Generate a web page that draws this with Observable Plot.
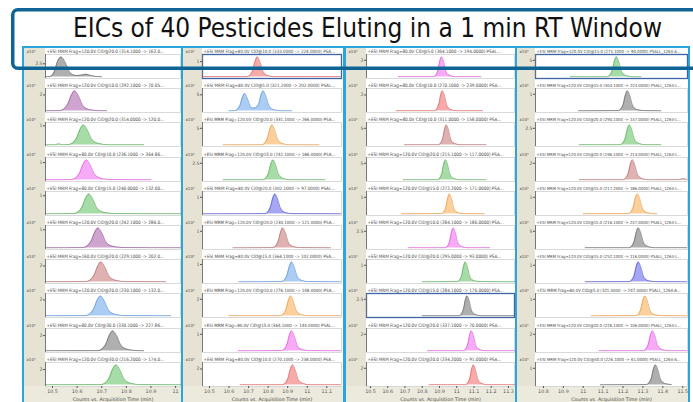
<!DOCTYPE html>
<html><head><meta charset="utf-8">
<script src="https://cdn.jsdelivr.net/npm/d3@7"></script>
<script src="https://cdn.jsdelivr.net/npm/@observablehq/plot@0.6"></script>
<style>
html,body{margin:0;padding:0;background:#fff;}
#root{position:relative;width:693px;height:402px;overflow:hidden;background:#fff;}
.col{position:absolute;top:46px;height:380px;box-sizing:border-box;border:2px solid #2ba6dd;background:#fff;overflow:hidden;}
.strip{position:absolute;left:0;top:0;bottom:0;background:#e7e3d4;}
.bottom{position:absolute;left:0;right:0;bottom:0;background:#ece9dd;}
.cell{position:absolute;left:0;}
#over{position:absolute;left:0;top:0;pointer-events:none;}
</style></head>
<body><div id="root"></div>
<script>
// ---------------- DATA ----------------
const titleText = "EICs of 40 Pesticides Eluting in a 1 min RT Window";
const axisTitle = "Counts vs. Acquisition Time (min)";

const xDomains = [[10.4715, 11.02], [10.4645, 11.175], [10.4768, 11.335], [10.76, 11.524]];
const xTicks = [
  [10.5, 10.6, 10.7, 10.8, 10.9, 11],
  [10.5, 10.6, 10.7, 10.8, 10.9, 11, 11.1],
  [10.5, 10.6, 10.7, 10.8, 10.9, 11, 11.1, 11.2, 11.3],
  [10.8, 10.9, 11, 11.1, 11.2, 11.3, 11.4, 11.5]
];

const col1Headers = [
  "+ESI MRM Frag=120.0V CID@20.0 (314.1000 -> 162.0...",
  "+ESI MRM Frag=120.0V CID@10.0 (292.1000 -> 70.05...",
  "+ESI MRM Frag=120.0V CID@20.0 (314.0000 -> 120.0...",
  "+ESI MRM Frag=80.0V CID@10.0 (236.1000 -> 364.86...",
  "+ESI MRM Frag=80.0V CID@15.0 (240.0000 -> 132.00...",
  "+ESI MRM Frag=120.0V CID@20.0 (242.1000 -> 286.0...",
  "+ESI MRM Frag=160.0V CID@20.0 (229.1000 -> 202.0...",
  "+ESI MRM Frag=120.0V CID@20.0 (230.1000 -> 132.0...",
  "+ESI MRM Frag=80.0V CID@30.0 (330.1000 -> 227.86...",
  "+ESI MRM Frag=120.0V CID@30.0 (216.2000 -> 174.0..."
];
const col2Headers = [
  "+ESI MRM Frag=80.0V CID@10.0 (333.0000 -> 224.0000) PSA...",
  "+ESI MRM Frag=80.0V CID@5.0 (321.2000 -> 202.0000) PSAL...",
  "+ESI MRM Frag=120.0V CID@20.0 (331.1000 -> 266.0000) PSA...",
  "+ESI MRM Frag=120.0V CID@15.0 (242.1000 -> 186.0000) PSA...",
  "+ESI MRM Frag=80.0V CID@20.0 (302.1000 -> 97.0000) PSAL...",
  "+ESI MRM Frag=120.0V CID@20.0 (230.1000 -> 121.0000) PSA...",
  "+ESI MRM Frag=80.0V CID@15.0 (364.1000 -> 102.0000) PSA...",
  "+ESI MRM Frag=120.0V CID@10.0 (276.1000 -> 148.0000) PSA...",
  "+ESI MRM Frag=80.0V CID@15.0 (364.1000 -> 144.0000) PSAL...",
  "+ESI MRM Frag=80.0V CID@10.0 (270.1000 -> 238.0000) PSA..."
];
const col3Headers = [
  "+ESI MRM Frag=80.0V CID@5.0 (364.1000 -> 194.0000) PSAL...",
  "+ESI MRM Frag=80.0V CID@10.0 (270.1000 -> 239.0000) PSA...",
  "+ESI MRM Frag=80.0V CID@10.0 (311.0000 -> 158.0000) PSA...",
  "+ESI MRM Frag=120.0V CID@20.0 (215.1000 -> 117.0000) PSA...",
  "+ESI MRM Frag=120.0V CID@15.0 (272.2000 -> 171.0000) PSA...",
  "+ESI MRM Frag=120.0V CID@10.0 (284.1000 -> 186.0000) PSA...",
  "+ESI MRM Frag=120.0V CID@20.0 (295.0000 -> 93.0000) PSA...",
  "+ESI MRM Frag=120.0V CID@15.0 (284.1000 -> 176.0000) PSA...",
  "+ESI MRM Frag=120.0V CID@20.0 (337.1000 -> 70.0000) PSA...",
  "+ESI MRM Frag=120.0V CID@20.0 (234.2000 -> 91.0000) PSA..."
];
const col4Headers = [
  "+ESI MRM Frag=120.0V CID@15.0 (275.1000 -> 90.0000) PSALL_1264-A...",
  "+ESI MRM Frag=120.0V CID@15.0 (304.1000 -> 224.0000) PSALL_1264-L...",
  "+ESI MRM Frag=120.0V CID@20.0 (290.1000 -> 147.0000) PSALL_1264-L...",
  "+ESI MRM Frag=120.0V CID@20.0 (196.1000 -> 213.0000) PSALL_1264-L...",
  "+ESI MRM Frag=120.0V CID@15.0 (217.2000 -> 186.0000) PSALL_1264-L...",
  "+ESI MRM Frag=120.0V CID@15.0 (216.1000 -> 247.0000) PSALL_1264-L...",
  "+ESI MRM Frag=120.0V CID@15.0 (252.1000 -> 116.0000) PSALL_1264-L...",
  "+ESI MRM Frag=80.0V CID@5.0 (321.0000 -> 247.0000) PSALL_1264-A...",
  "+ESI MRM Frag=120.0V CID@20.0 (226.1000 -> 106.0000) PSALL_1264-L...",
  "+ESI MRM Frag=120.0V CID@40.0 (226.1000 -> 61.0000) PSALL_1264-A..."
];

const col1Exponents = [5, 4, 5, 4, 4, 5, 4, 4, 5, 4];
const col2Exponents = [3, 3, 3, 3, 4, 4, 5, 3, 5, 4];
const col3Exponents = [3, 4, 3, 3, 4, 3, 3, 3, 3, 3];
const col4Exponents = [3, 5, 3, 4, 3, 3, 4, 3, 4, 4];

const col1YTicks = [2.5, 2, 1, 1, 1, 1, 2, 2, 2, 2];
const col2YTicks = [1, 5, 5, 2.5, 1, 1, 1, 2, 1, 2];
const col3YTicks = [2, 2, 5, 5, 1, 2.5, 1, 2.5, 2, 2];
const col4YTicks = [5, 1, 2.5, 2, 1, 5, 1, 1, 2, 1];

const col1Colors = ["gray", "purple", "green", "magenta", "green", "purple", "rosy", "blue", "gray", "green"];
const col2Colors = ["salmon", "blue", "orange", "green", "violet", "rosy", "blue", "orange", "magenta", "salmon"];
const col3Colors = ["magenta", "salmon", "rosy", "green", "orange", "magenta", "green", "gray", "magenta", "salmon"];
const col4Colors = ["green", "gray", "green", "rosy", "orange", "gray", "violet", "orange", "magenta", "gray"];

// traces: flat [time, intensity, time, intensity, ...] in axis units
const col1Traces = [
  [10.472,0.08, 10.49,0.1, 10.507,1.0, 10.521,3.0, 10.535,3.8, 10.55,2.9, 10.57,0.9, 10.595,0.3, 10.615,0.35, 10.635,0.55, 10.655,0.3, 10.68,0.1, 10.70,0.08],
  [10.472,0.05, 10.53,0.06, 10.56,0.75, 10.577,2.0, 10.59,2.5, 10.605,1.9, 10.625,0.6, 10.655,0.15, 10.69,0.05, 10.72,0.05],
  [10.472,0.02, 10.51,0.02, 10.525,0.06, 10.54,0.02, 10.566,0.03, 10.596,0.32, 10.613,0.85, 10.626,1.05, 10.641,0.8, 10.661,0.27, 10.691,0.07, 10.726,0.02, 10.87,0.02],
  [10.472,0.02, 10.578,0.03, 10.608,0.35, 10.625,0.92, 10.638,1.15, 10.653,0.86, 10.673,0.29, 10.703,0.08, 10.738,0.03, 10.9,0.02],
  [10.472,0.02, 10.588,0.03, 10.618,0.33, 10.635,0.88, 10.648,1.1, 10.663,0.83, 10.683,0.28, 10.713,0.08, 10.748,0.03, 11.02,0.02],
  [10.472,0.02, 10.625,0.03, 10.655,0.33, 10.672,0.88, 10.685,1.1, 10.7,0.83, 10.72,0.28, 10.75,0.08, 10.785,0.03, 11.02,0.02],
  [10.472,0.05, 10.637,0.06, 10.667,0.75, 10.684,2.0, 10.697,2.5, 10.712,1.9, 10.732,0.63, 10.762,0.18, 10.797,0.06, 10.96,0.05],
  [10.472,0.05, 10.635,0.06, 10.665,0.75, 10.682,2.0, 10.695,2.5, 10.71,1.9, 10.73,0.63, 10.76,0.18, 10.795,0.06, 10.98,0.05],
  [10.472,0.05, 10.685,0.06, 10.715,0.78, 10.732,2.1, 10.745,2.6, 10.76,2.0, 10.78,0.65, 10.81,0.18, 10.845,0.06, 10.87,0.05],
  [10.472,0.05, 10.698,0.06, 10.728,0.78, 10.745,2.1, 10.758,2.6, 10.773,2.0, 10.793,0.65, 10.823,0.18, 10.858,0.06, 11.02,0.05]
];
const col2Traces = [
  [10.466,0.03, 10.695,0.03, 10.72,0.39, 10.734,1.04, 10.745,1.3, 10.758,0.98, 10.775,0.33, 10.8,0.09, 10.83,0.03, 11.17,0.03],
  [10.6,0.1, 10.63,0.12, 10.655,1.6, 10.669,4.3, 10.68,5.4, 10.693,4.0, 10.71,1.4, 10.727,0.9, 10.75,1.9, 10.764,5.0, 10.775,6.2, 10.788,4.6, 10.805,1.6, 10.83,0.4, 10.86,0.12, 10.92,0.1],
  [10.57,0.1, 10.77,0.12, 10.795,1.8, 10.809,4.8, 10.82,6, 10.833,4.5, 10.85,1.5, 10.875,0.4, 10.905,0.12, 11.06,0.1],
  [10.57,0.06, 10.775,0.06, 10.8,0.9, 10.814,2.4, 10.825,3, 10.838,2.25, 10.855,0.75, 10.88,0.2, 10.91,0.06, 11.09,0.06],
  [10.466,0.02, 10.785,0.03, 10.81,0.36, 10.824,0.96, 10.835,1.2, 10.848,0.9, 10.865,0.3, 10.89,0.08, 10.92,0.03, 11.17,0.02],
  [10.62,0.02, 10.825,0.03, 10.85,0.36, 10.864,0.96, 10.875,1.2, 10.888,0.9, 10.905,0.3, 10.93,0.08, 10.96,0.03, 11.12,0.02],
  [10.65,0.02, 10.87,0.03, 10.895,0.35, 10.909,0.92, 10.92,1.15, 10.933,0.86, 10.95,0.29, 10.975,0.08, 11.005,0.03, 11.17,0.02],
  [10.6,0.05, 10.865,0.05, 10.89,0.72, 10.904,1.92, 10.915,2.4, 10.928,1.8, 10.945,0.6, 10.97,0.17, 11.0,0.05, 11.17,0.05],
  [10.647,0.02, 10.87,0.03, 10.895,0.36, 10.909,0.96, 10.92,1.2, 10.933,0.9, 10.95,0.3, 10.975,0.08, 11.005,0.03, 11.17,0.02],
  [10.657,0.05, 10.875,0.05, 10.9,0.75, 10.914,2.0, 10.925,2.5, 10.938,1.88, 10.955,0.63, 10.98,0.18, 11.01,0.05, 11.17,0.05]
];
const col3Traces = [
  [10.662,0.05, 10.867,0.05, 10.89,0.72, 10.902,1.92, 10.912,2.4, 10.924,1.8, 10.939,0.6, 10.962,0.17, 10.992,0.05, 11.14,0.05],
  [10.65,0.05, 10.872,0.05, 10.895,0.75, 10.907,2.0, 10.917,2.5, 10.929,1.88, 10.944,0.63, 10.967,0.18, 10.997,0.05, 11.15,0.05],
  [10.697,0.12, 10.895,0.12, 10.918,1.8, 10.93,4.8, 10.94,6, 10.952,4.5, 10.967,1.5, 10.99,0.42, 11.02,0.12, 11.17,0.12],
  [10.69,0.12, 10.89,0.12, 10.913,1.8, 10.925,4.8, 10.935,6, 10.947,4.5, 10.962,1.5, 10.985,0.42, 11.015,0.12, 11.17,0.12],
  [10.68,0.02, 10.913,0.03, 10.936,0.36, 10.948,0.96, 10.958,1.2, 10.97,0.9, 10.985,0.3, 11.008,0.08, 11.038,0.03, 11.16,0.02],
  [10.72,0.06, 10.935,0.06, 10.958,0.9, 10.97,2.4, 10.98,3, 10.992,2.25, 11.007,0.75, 11.03,0.21, 11.06,0.06, 11.19,0.06],
  [10.8,0.02, 11.005,0.03, 11.028,0.36, 11.04,0.96, 11.05,1.2, 11.062,0.9, 11.077,0.3, 11.1,0.08, 11.13,0.03, 11.335,0.02],
  [10.8,0.06, 11.015,0.06, 11.038,0.9, 11.05,2.4, 11.06,3, 11.072,2.25, 11.087,0.75, 11.11,0.21, 11.14,0.06, 11.335,0.06],
  [10.83,0.05, 11.04,0.05, 11.063,0.72, 11.075,1.92, 11.085,2.4, 11.097,1.8, 11.112,0.6, 11.135,0.17, 11.165,0.05, 11.335,0.05],
  [10.84,0.05, 11.052,0.05, 11.075,0.72, 11.087,1.92, 11.097,2.4, 11.109,1.8, 11.124,0.6, 11.147,0.17, 11.177,0.05, 11.335,0.05]
];
const col4Traces = [
  [10.935,0.12, 11.122,0.12, 11.145,1.8, 11.157,4.8, 11.167,6, 11.179,4.5, 11.194,1.5, 11.217,0.42, 11.247,0.12, 11.29,0.12],
  [10.976,0.02, 11.177,0.03, 11.2,0.36, 11.212,0.96, 11.222,1.2, 11.234,0.9, 11.249,0.3, 11.272,0.08, 11.302,0.03, 11.39,0.02],
  [10.98,0.06, 11.187,0.06, 11.21,0.9, 11.222,2.4, 11.232,3, 11.244,2.25, 11.259,0.75, 11.282,0.21, 11.312,0.06, 11.39,0.06],
  [10.98,0.05, 11.202,0.05, 11.225,0.72, 11.237,1.92, 11.247,2.4, 11.259,1.8, 11.274,0.6, 11.297,0.17, 11.327,0.05, 11.48,0.05, 11.5,0.15, 11.52,0.08],
  [11.0,0.02, 11.227,0.03, 11.25,0.36, 11.262,0.96, 11.272,1.2, 11.284,0.9, 11.299,0.3, 11.322,0.08, 11.352,0.03, 11.37,0.02],
  [11.01,0.12, 11.232,0.12, 11.255,1.8, 11.267,4.8, 11.277,6, 11.289,4.5, 11.304,1.5, 11.327,0.42, 11.357,0.12, 11.52,0.12],
  [11.01,0.02, 11.232,0.03, 11.255,0.36, 11.267,0.96, 11.277,1.2, 11.289,0.9, 11.304,0.3, 11.327,0.08, 11.357,0.03, 11.52,0.02],
  [11.04,0.02, 11.265,0.03, 11.288,0.36, 11.3,0.96, 11.31,1.2, 11.322,0.9, 11.337,0.3, 11.36,0.08, 11.39,0.03, 11.52,0.02],
  [11.08,0.05, 11.303,0.05, 11.326,0.72, 11.338,1.92, 11.348,2.4, 11.36,1.8, 11.375,0.6, 11.398,0.17, 11.428,0.05, 11.52,0.05],
  [11.086,0.02, 11.318,0.03, 11.341,0.36, 11.353,0.96, 11.363,1.2, 11.375,0.9, 11.39,0.3, 11.413,0.08, 11.443,0.03]
];

// selected (outlined) panels: [column, row]
const highlighted = [[1, 0], [2, 7], [3, 0]];

// ---------------- STYLE / LAYOUT ----------------
const palette = {
  gray: ["#ababab", "#6a6a6a"], purple: ["#cc9fcc", "#94609a"], green: ["#a2d9a2", "#5eae5e"],
  magenta: ["#f7a6f5", "#d95cd6"], salmon: ["#f6a5a5", "#dc6868"], blue: ["#a6caf3", "#5e93d6"],
  orange: ["#fccd98", "#e59c4c"], violet: ["#a0a2f2", "#5457cc"], rosy: ["#ddadad", "#b47272"]
};
const sup = {3: "\u00b3", 4: "\u2074", 5: "\u2075"};
const geom = [
  {left: 22, width: 161, strip: 21, mr: 1},
  {left: 181, width: 164, strip: 19, mr: 2},
  {left: 344, width: 173, strip: 20, mr: 1},
  {left: 515, width: 175, strip: 18, mr: 1}
];
const ROW = 34.2, CELL_H = 34, MT = 6, MB = 4, AXIS_EXTRA = 18;
const FONT = "'DejaVu Sans', 'Liberation Sans', sans-serif";
const HEADER_FONT = "'DejaVu Sans Condensed', 'Liberation Sans Narrow', 'DejaVu Sans', sans-serif";

// size header text so its natural width fits the panel
const measureCtx = document.createElement("canvas").getContext("2d");
function fitSize(text, maxWidth, base) {
  measureCtx.font = `${base * 10}px ${HEADER_FONT}`;
  const w = measureCtx.measureText(text).width / 10;
  return Math.min(base, base * maxWidth / w * 0.97);
}

const columns = [
  {headers: col1Headers, exps: col1Exponents, ticks: col1YTicks, colors: col1Colors, traces: col1Traces},
  {headers: col2Headers, exps: col2Exponents, ticks: col2YTicks, colors: col2Colors, traces: col2Traces},
  {headers: col3Headers, exps: col3Exponents, ticks: col3YTicks, colors: col3Colors, traces: col3Traces},
  {headers: col4Headers, exps: col4Exponents, ticks: col4YTicks, colors: col4Colors, traces: col4Traces}
];

const root = document.getElementById("root");
columns.forEach((col, c) => {
  const g = geom[c];
  const div = document.createElement("div");
  div.className = "col";
  div.style.left = g.left + "px";
  div.style.width = g.width + "px";
  const strip = document.createElement("div");
  strip.className = "strip";
  strip.style.width = g.strip + "px";
  div.appendChild(strip);
  const bottom = document.createElement("div");
  bottom.className = "bottom";
  bottom.style.top = (9 * ROW + CELL_H - MB + 0.5) + "px";
  div.appendChild(bottom);
  const innerW = g.width - 4;
  const plotW = innerW - g.strip - g.mr;
  for (let r = 0; r < 10; r++) {
    const last = r === 9;
    const flat = col.traces[r];
    const data = [];
    for (let i = 0; i < flat.length; i += 2) data.push({t: flat[i], v: flat[i + 1]});
    const top = d3.max(data, d => d.v);
    const [fillC, strokeC] = palette[col.colors[r]];
    const hl = highlighted.some(([hc, hr]) => hc === c && hr === r);
    const hSize = fitSize(col.headers[r], plotW - 3, 4.6);
    const marks = [
      Plot.frame({fill: "white", stroke: hl ? "#3f64a8" : "#d0d0d0", strokeWidth: hl ? 1.3 : 0.8}),
      Plot.areaY(data, {x: "t", y: "v", curve: "monotone-x", fill: fillC, fillOpacity: 0.95}),
      Plot.lineY(data, {x: "t", y: "v", curve: "monotone-x", stroke: strokeC, strokeWidth: 0.7}),
      Plot.ruleX([xDomains[c][0]], {stroke: "#6d6d6d", strokeWidth: 0.9}),
      Plot.axisY({ticks: [col.ticks[r]], tickSize: 2, tickPadding: 1, fontSize: 4.6, label: null, tickFormat: d => String(d)}),
      Plot.text([col.headers[r]], {frameAnchor: "top-left", dx: 1, dy: -2.6, lineAnchor: "middle", textAnchor: "start", fontSize: hSize, fontFamily: HEADER_FONT, fill: "#454545"}),
      Plot.text(["x10" + sup[col.exps[r]]], {frameAnchor: "top-left", dx: -(g.strip - 2), dy: -2.6, lineAnchor: "middle", textAnchor: "start", fontSize: 4, fill: "#4a4a4a"})
    ];
    if (last) {
      marks.push(
        Plot.axisX({ticks: xTicks[c], tickSize: 2, tickPadding: 1.5, fontSize: 4.8, label: null, tickFormat: d => String(d)}),
        Plot.text([axisTitle], {frameAnchor: "bottom", dy: 13, lineAnchor: "middle", fontSize: 4.8, fill: "#4a4a4a"})
      );
    }
    const svg = Plot.plot({
      width: innerW,
      height: last ? CELL_H + AXIS_EXTRA : CELL_H,
      marginTop: MT,
      marginBottom: last ? MB + AXIS_EXTRA : MB,
      marginLeft: g.strip,
      marginRight: g.mr,
      x: last ? {domain: xDomains[c]} : {domain: xDomains[c], axis: null},
      y: {domain: [-0.07 * top, 1.12 * top]},
      style: {background: "transparent", overflow: "visible", fontFamily: FONT, color: "#555"},
      marks
    });
    svg.classList.add("cell");
    svg.style.position = "absolute";
    svg.style.top = Math.round(r * ROW) + "px";
    svg.style.left = "0px";
    div.appendChild(svg);
  }
  root.appendChild(div);
});

// title box overlay
const ns = "http://www.w3.org/2000/svg";
const over = document.createElementNS(ns, "svg");
over.setAttribute("id", "over");
over.setAttribute("width", 693);
over.setAttribute("height", 80);
const rect = document.createElementNS(ns, "rect");
rect.setAttribute("x", 12.75); rect.setAttribute("y", 9.75);
rect.setAttribute("width", 700); rect.setAttribute("height", 58.5);
rect.setAttribute("rx", 5); rect.setAttribute("fill", "none");
rect.setAttribute("stroke", "#0e6494"); rect.setAttribute("stroke-width", 3.5);
over.appendChild(rect);
const tt = document.createElementNS(ns, "text");
tt.setAttribute("x", 73); tt.setAttribute("y", 37);
tt.setAttribute("font-size", 27);
tt.setAttribute("font-family", "'Liberation Sans Narrow', 'DejaVu Sans Condensed', 'Roboto Condensed', sans-serif");
tt.setAttribute("fill", "#111");
tt.setAttribute("textLength", 589);
tt.setAttribute("lengthAdjust", "spacingAndGlyphs");
tt.textContent = titleText;
over.appendChild(tt);
root.appendChild(over);
</script>
</body></html>
